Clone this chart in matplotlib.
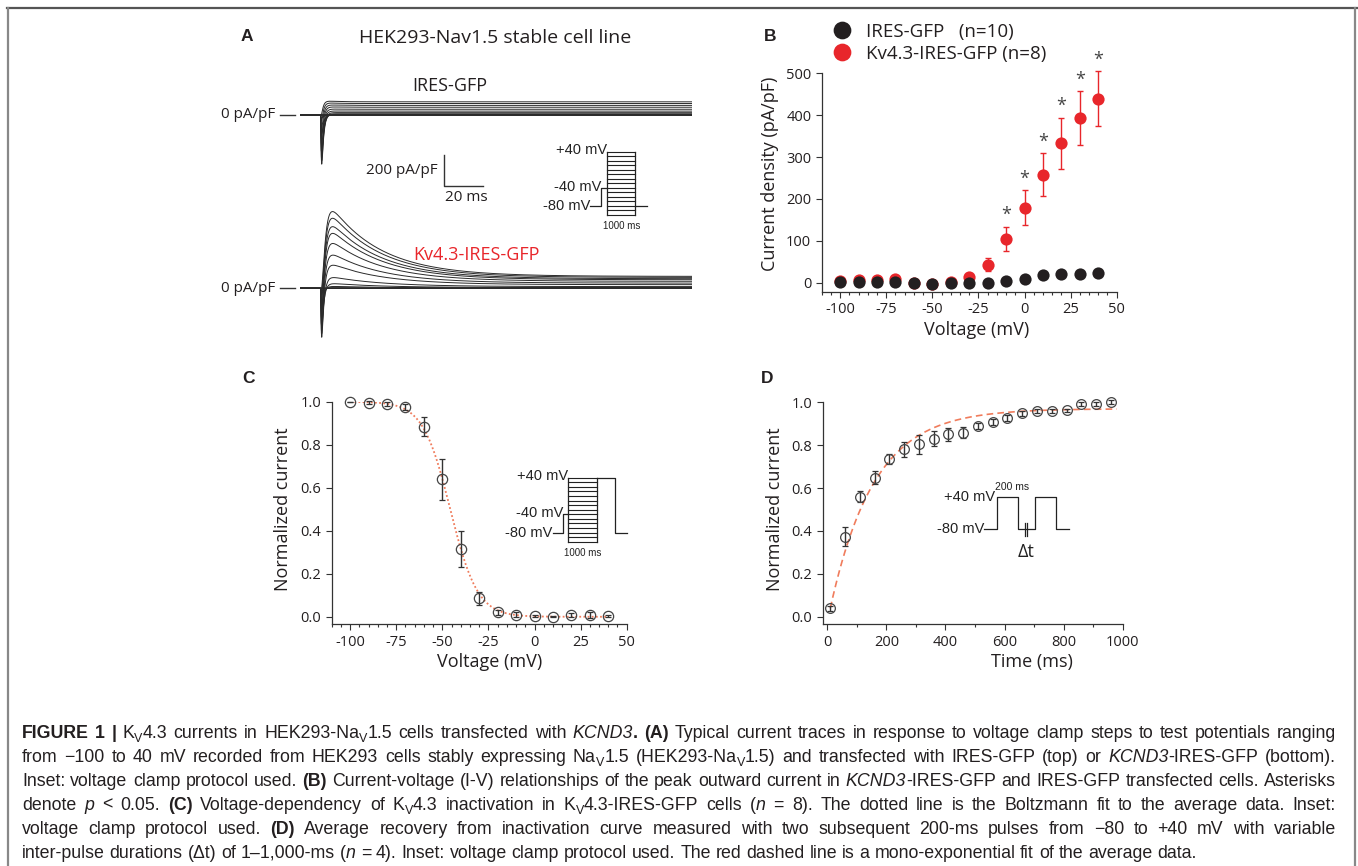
import numpy as np
import matplotlib
matplotlib.use("Agg")
import matplotlib.pyplot as plt
from matplotlib.lines import Line2D
from matplotlib.ticker import MultipleLocator

W, H = 1358, 866
INK = "#231f20"
RED = "#e8262b"
FIT = "#f07c5c"

# ---------------- data ----------------
step_voltages = [-100, -90, -80, -70, -60, -50, -40, -30, -20, -10, 0, 10, 20, 30, 40]

# panel B, I-V relationship (pA/pF)
ires_iv = [1, 1, 1, 1, -1, -3, -1, -1, 0, 3, 10, 18, 20, 21, 23]
kv_iv = [5, 6, 7, 9, -1, -3, 1, 13, 43, 105, 179, 258, 333, 393, 439]
kv_iv_err = [1, 1, 1, 2, 1, 1, 2, 4, 15, 29, 42, 51, 61, 64, 66]
kv_iv_sig = [0, 0, 0, 0, 0, 0, 0, 0, 0, 1, 1, 1, 1, 1, 1]
legend_labels = ["IRES-GFP   (n=10)", "Kv4.3-IRES-GFP (n=8)"]

# panel C, steady-state inactivation
inact_current = [1.0, 0.995, 0.99, 0.975, 0.883, 0.64, 0.315, 0.085, 0.02, 0.01, 0.005, 0.0, 0.008, 0.008, 0.005]
inact_err = [0, 0.008, 0.01, 0.013, 0.044, 0.095, 0.085, 0.031, 0.01, 0.01, 0.005, 0.003, 0.008, 0.012, 0.005]
boltz_vhalf = -45.7
boltz_slope = 7.4

# panel D, recovery from inactivation
recovery_time = [10, 60, 110, 160, 210, 260, 310, 360, 410, 460, 510, 560, 610, 660, 710, 760, 810, 860, 910, 960]
recovery_current = [0.04, 0.373, 0.56, 0.648, 0.736, 0.78, 0.804, 0.83, 0.85, 0.858, 0.89, 0.908, 0.927,
                    0.948, 0.96, 0.96, 0.963, 0.992, 0.992, 1.0]
recovery_err = [0.012, 0.045, 0.025, 0.03, 0.025, 0.035, 0.045, 0.035, 0.03, 0.025, 0.015, 0.015, 0.015,
                0.01, 0.008, 0.01, 0.008, 0.01, 0.01, 0.01]
exp_plateau, exp_amp, exp_tau = 0.97, 0.995, 149.0

# panel A, example traces (pA/pF) for each step voltage
na_peak = [0, 0, 0, 0, -20, -120, -250, -320, -300, -260, -210, -160, -110, -60, -20]
ires_plateau = [0, 0, 0, 0, 0, 1, 3, 8, 15, 25, 37, 50, 62, 74, 85]
kv_peak = [0, 0, 0, 0, 4, 12, 30, 70, 150, 215, 290, 355, 398, 452, 495]
top_offset = 1118  # vertical offset of the IRES-GFP traces

# protocol schematics (ms, mV)
protA = ([0, 400, 400, 630], [-80, -80, -40, -40])
protA_tail = ([1630, 2050], [-80, -80])
protC = ([0, 373, 373, 549], [-80, -80, -40, -40])
protC_tail = ([1549, 2193, 2193, 2605], [40, 40, -80, -80])
protD = ([0, 120, 120, 320, 320, 485, 485, 685, 685, 805], [-80, -80, 40, 40, -80, -80, 40, 40, -80, -80])

plt.rcParams["font.family"] = ["Open Sans", "DejaVu Sans"]
plt.rcParams["axes.unicode_minus"] = False

fig = plt.figure(figsize=(W / 100, H / 100), dpi=100)


def px_axes(l, t, r, b):
    return fig.add_axes([l / W, 1 - b / H, (r - l) / W, (b - t) / H])


def ftext(x, y, s, **kw):
    kw.setdefault("color", INK)
    return fig.text(x / W, 1 - y / H, s, **kw)


def style_axes(ax):
    for s in ["top", "right"]:
        ax.spines[s].set_visible(False)
    for s in ["left", "bottom"]:
        ax.spines[s].set_color("#333333")
        ax.spines[s].set_linewidth(0.9)
    ax.tick_params(which="both", direction="out", colors="#333333", labelcolor=INK,
                   labelsize=10.5, width=0.8)
    ax.tick_params(which="major", length=4)
    ax.tick_params(which="minor", length=2.5)
    ax.patch.set_alpha(0)


# ---------------- panel A ----------------
axA = px_axes(300, 95, 692, 345)
axA.set_xlim(-10.5, 190.5)
axA.set_ylim(-366, 1247)
axA.axis("off")

t = np.arange(-10.5, 190.5, 0.05)
tt = np.clip(t, 0, None)
na_shape = (1 - np.exp(-tt / 0.25)) ** 3 * np.exp(-tt / 1.0)
na_shape /= na_shape.max()
kv_shape = (1 - np.exp(-tt / 1.5)) ** 3 * (0.88 * np.exp(-tt / 26.0) + 0.12)
kv_shape /= kv_shape.max()
ires_shape = (1 - np.exp(-tt / 0.8)) ** 2 * (1 + 0.12 * np.exp(-tt / 6.0))

for na, ip, kp in zip(na_peak, ires_plateau, kv_peak):
    axA.plot(t, top_offset + na * na_shape + ip * ires_shape, color="#2a2a2a", lw=0.7)
    axA.plot(t, na * na_shape + kp * kv_shape, color="#2a2a2a", lw=0.7)

# scale bar 200 pA/pF, 20 ms
axA.plot([63.5, 63.5, 83.5], [860, 660, 660], color="#333333", lw=1.0)
for y0 in [top_offset, 0]:
    axA.plot([-20.8, -13.1], [y0, y0], color="#333333", lw=1.0, clip_on=False)

ftext(246.7, 36.7, "A", fontsize=12.5, fontweight="bold", family="Liberation Sans", ha="center", va="center")
ftext(495, 38.3, "HEK293-Nav1.5 stable cell line", fontsize=14, ha="center", va="center")
ftext(450, 86, "IRES-GFP", fontsize=13, ha="center", va="center")
ftext(476.7, 255, "Kv4.3-IRES-GFP", fontsize=13, ha="center", va="center", color=RED)
ftext(275, 115, "0 pA/pF", fontsize=11, ha="right", va="center")
ftext(275, 288.3, "0 pA/pF", fontsize=11, ha="right", va="center")
ftext(437.3, 170.7, "200 pA/pF", fontsize=11, ha="right", va="center")
ftext(466.7, 197.3, "20 ms", fontsize=11, ha="center", va="center")


def step_box(ax, x0, x1, levels):
    for v in levels:
        ax.plot([x0, x1], [v, v], color="#222222", lw=0.8, clip_on=False)
    for x in [x0, x1]:
        ax.plot([x, x], [min(levels), max(levels)], color="#222222", lw=0.9, clip_on=False)


# inset A protocol
inA = px_axes(590, 151.7, 646.8, 215)
inA.set_xlim(0, 2050)
inA.set_ylim(-100, 40)
inA.axis("off")
inA.plot(*protA, color="#222222", lw=0.9, clip_on=False)
inA.plot(*protA_tail, color="#222222", lw=0.9, clip_on=False)
step_box(inA, 630, 1630, step_voltages)
ins_kw = dict(family="Liberation Sans", fontsize=10.5, color="#222222", va="center", ha="right")
inA.text(630, 43, "+40 mV", **ins_kw)
inA.text(400, -37, "-40 mV", **ins_kw)
inA.text(10, -80, "-80 mV", **ins_kw)
inA.text(1130, -124, "1000 ms", family="Liberation Sans", fontsize=7, color="#222222",
         ha="center", va="center")

# ---------------- panel B ----------------
axB = px_axes(821.7, 73.3, 1116.7, 291.7)
style_axes(axB)
axB.set_xlim(-110, 50)
axB.set_ylim(-21.5, 500)
axB.errorbar(step_voltages, kv_iv, yerr=kv_iv_err, fmt="none", ecolor=RED, elinewidth=1.0,
             capsize=2.4, capthick=1.0, clip_on=False, zorder=2)
h_red, = axB.plot(step_voltages, kv_iv, "o", color=RED, ms=8.8, mec="none", clip_on=False, zorder=3)
h_blk, = axB.plot(step_voltages, ires_iv, "o", color=INK, ms=8.8, mec="none", clip_on=False, zorder=4)
for v, m, e, s in zip(step_voltages, kv_iv, kv_iv_err, kv_iv_sig):
    if s:
        axB.text(v, m + e + 6, "*", ha="center", va="bottom", fontsize=13, color="#444444")
axB.set_xticks([-100, -75, -50, -25, 0, 25, 50])
axB.xaxis.set_minor_locator(MultipleLocator(5))
axB.set_yticks([0, 100, 200, 300, 400, 500])
axB.set_xlabel("Voltage (mV)", fontsize=13, color=INK, va="center")
axB.xaxis.set_label_coords(0.526, -0.175)
axB.set_ylabel("Current density (pA/pF)", fontsize=13, color=INK, va="center")
axB.yaxis.set_label_coords(-0.175, 0.542)
axB.legend([h_blk, h_red], legend_labels, loc="upper left", bbox_to_anchor=(833 / W, 1 - 23 / H),
           bbox_transform=fig.transFigure, frameon=False, fontsize=13.5, markerscale=1.45,
           handlelength=1.0, handletextpad=0.75, labelspacing=0.2, borderpad=0, borderaxespad=0,
           labelcolor=INK)
ftext(770, 36.7, "B", fontsize=12.5, fontweight="bold", family="Liberation Sans", ha="center", va="center")

# ---------------- panel C ----------------
axC = px_axes(331.7, 401.7, 626.7, 624.3)
style_axes(axC)
axC.set_xlim(-110, 50)
axC.set_ylim(-0.035, 1.0)
vfit = np.linspace(step_voltages[0], step_voltages[-1], 300)
axC.plot(vfit, 1 / (1 + np.exp((vfit - boltz_vhalf) / boltz_slope)), color=FIT, lw=1.3,
         ls=(0, (1, 1.3)), zorder=1)
axC.errorbar(step_voltages, inact_current, yerr=inact_err, fmt="o", mfc="none", mec="#444444",
             ms=7.4, mew=0.9, ecolor="#333333", elinewidth=1.0, capsize=2.0, capthick=1.0,
             clip_on=False, zorder=3)
axC.set_xticks([-100, -75, -50, -25, 0, 25, 50])
axC.xaxis.set_minor_locator(MultipleLocator(5))
axC.set_yticks([0, 0.2, 0.4, 0.6, 0.8, 1.0])
axC.set_yticklabels(["0.0", "0.2", "0.4", "0.6", "0.8", "1.0"])
axC.set_xlabel("Voltage (mV)", fontsize=13, color=INK, va="center")
axC.xaxis.set_label_coords(0.537, -0.169)
axC.set_ylabel("Normalized current", fontsize=13, color=INK, va="center")
axC.yaxis.set_label_coords(-0.164, 0.518)
ftext(248.3, 378.3, "C", fontsize=12.5, fontweight="bold", family="Liberation Sans", ha="center", va="center")

inC = px_axes(552.7, 477.7, 626.7, 541.7)
inC.set_xlim(0, 2605)
inC.set_ylim(-100, 40)
inC.axis("off")
inC.plot(*protC, color="#222222", lw=0.9, clip_on=False)
inC.plot(*protC_tail, color="#222222", lw=0.9, clip_on=False)
step_box(inC, 549, 1549, step_voltages)
inC.text(549, 43, "+40 mV", **ins_kw)
inC.text(373, -37, "-40 mV", **ins_kw)
inC.text(0, -80, "-80 mV", **ins_kw)
inC.text(1049, -124, "1000 ms", family="Liberation Sans", fontsize=7, color="#222222",
         ha="center", va="center")

# ---------------- panel D ----------------
axD = px_axes(822.7, 402.3, 1122.7, 624.3)
style_axes(axD)
axD.set_xlim(-15.6, 1000)
axD.set_ylim(-0.035, 1.0)
tfit = np.linspace(recovery_time[0], 980, 300)
axD.plot(tfit, exp_plateau - exp_amp * np.exp(-tfit / exp_tau), color=FIT, lw=1.2,
         ls=(0, (4, 2.5)), zorder=1)
axD.errorbar(recovery_time, recovery_current, yerr=recovery_err, fmt="o", mfc="none", mec="#444444",
             ms=7.0, mew=0.9, ecolor="#333333", elinewidth=1.0, capsize=2.0, capthick=1.0,
             clip_on=False, zorder=3)
axD.set_xticks([0, 200, 400, 600, 800, 1000])
axD.xaxis.set_minor_locator(MultipleLocator(100))
axD.set_yticks([0, 0.2, 0.4, 0.6, 0.8, 1.0])
axD.set_yticklabels(["0.0", "0.2", "0.4", "0.6", "0.8", "1.0"])
axD.set_xlabel("Time (ms)", fontsize=13, color=INK, va="center")
axD.xaxis.set_label_coords(0.698, -0.169)
axD.set_ylabel("Normalized current", fontsize=13, color=INK, va="center")
axD.yaxis.set_label_coords(-0.159, 0.518)
ftext(766.7, 378.3, "D", fontsize=12.5, fontweight="bold", family="Liberation Sans", ha="center", va="center")

inD = px_axes(984.3, 497.3, 1068.8, 529.3)
inD.set_xlim(0, 805)
inD.set_ylim(-80, 40)
inD.axis("off")
inD.plot(*protD, color="#222222", lw=0.9, clip_on=False)
for xb in [388, 410]:
    inD.plot([xb, xb], [-105, -55], color="#222222", lw=0.9, clip_on=False)
inD.text(100, 40, "+40 mV", **ins_kw)
inD.text(0, -80, "-80 mV", **ins_kw)
inD.text(262, 58, "200 ms", family="Liberation Sans", fontsize=7.5, color="#222222",
         ha="center", va="bottom")
inD.text(399, -165, "\u0394t", fontsize=13, color="#222222", ha="center", va="center")

# ---------------- frame ----------------
fig.add_artist(Line2D([7 / W, 1], [1 - 8 / H, 1 - 8 / H], transform=fig.transFigure, color="#555555", lw=1.6))
fig.add_artist(Line2D([7.5 / W, 7.5 / W], [0, 1 - 8 / H], transform=fig.transFigure, color="#888888", lw=1.6))
fig.add_artist(Line2D([1355 / W, 1355 / W], [0, 1 - 8 / H], transform=fig.transFigure, color="#888888", lw=1.6))

# ---------------- caption ----------------
caption = [
    [("FIGURE 1 | ", "b"), ("K", "n"), ("V", "s"), ("4.3 currents in HEK293-Na", "n"), ("V", "s"),
     ("1.5 cells transfected with ", "n"), ("KCND3", "i"), (". (A) ", "b"),
     ("Typical current traces in response to voltage clamp steps to test potentials ranging", "n")],
    [("from \u2212100 to 40 mV recorded from HEK293 cells stably expressing Na", "n"), ("V", "s"),
     ("1.5 (HEK293-Na", "n"), ("V", "s"), ("1.5) and transfected with IRES-GFP (top) or ", "n"),
     ("KCND3", "i"), ("-IRES-GFP (bottom).", "n")],
    [("Inset: voltage clamp protocol used. ", "n"), ("(B)", "b"),
     (" Current-voltage (I-V) relationships of the peak outward current in ", "n"), ("KCND3", "i"),
     ("-IRES-GFP and IRES-GFP transfected cells. Asterisks", "n")],
    [("denote ", "n"), ("p", "i"), (" < 0.05. ", "n"), ("(C)", "b"), (" Voltage-dependency of K", "n"),
     ("V", "s"), ("4.3 inactivation in K", "n"), ("V", "s"), ("4.3-IRES-GFP cells (", "n"), ("n", "i"),
     (" = 8). The dotted line is the Boltzmann fit to the average data. Inset:", "n")],
    [("voltage clamp protocol used. ", "n"), ("(D)", "b"),
     (" Average recovery from inactivation curve measured with two subsequent 200-ms pulses from "
      "\u221280 to +40 mV with variable", "n")],
    [("inter-pulse durations (\u0394t) of 1\u20131,000-ms (", "n"), ("n", "i"),
     (" = 4). Inset: voltage clamp protocol used. The red dashed line is a mono-exponential fit of the average data.", "n")],
]
cap_top, cap_step = 737.5, 24.0
cap_left, cap_right = 22, 1336
renderer = fig.canvas.get_renderer()


def cap_kw(style, size):
    kw = dict(family="Liberation Sans", fontsize=size, color=INK, va="baseline", ha="left")
    if style == "b":
        kw["fontweight"] = "bold"
    elif style == "i":
        kw["fontstyle"] = "italic"
    elif style == "s":
        kw["fontsize"] = size * 0.7
    return kw


def width_of(s, kw):
    tx = fig.text(0, 0, s, **kw)
    w = tx.get_window_extent(renderer).width
    tx.remove()
    return w


def tokenize(runs):
    tokens = []
    pending = False
    for txt, st in runs:
        parts = txt.split(" ")
        for i, p in enumerate(parts):
            if i > 0:
                pending = True
            if p == "":
                continue
            tokens.append((p, st, pending))
            pending = False
    return tokens


def measure(tokens, size):
    sw = width_of("x x", cap_kw("n", size)) - width_of("xx", cap_kw("n", size))
    widths = [width_of(p, cap_kw(st, size)) for p, st, _ in tokens]
    n_gaps = sum(1 for _, _, g in tokens if g)
    return widths, n_gaps, sw


# pick the font size so the widest justified line just fills the column
base = 11.0
token_lines = [tokenize(r) for r in caption]
natural = []
for tk in token_lines[:-1]:
    w, n, sw = measure(tk, base)
    natural.append(sum(w) + n * sw)
cap_size = base * (cap_right - cap_left) / max(natural) * 0.995

for li, tokens in enumerate(token_lines):
    widths, n_gaps, space_w = measure(tokens, cap_size)
    gap = space_w
    if li < len(token_lines) - 1:
        gap = space_w + (cap_right - cap_left - sum(widths) - n_gaps * space_w) / n_gaps
    x = cap_left
    yb = cap_top + li * cap_step
    for (p, st, g), w in zip(tokens, widths):
        if g:
            x += gap
        dy = cap_size * 0.32 if st == "s" else 0
        fig.text(x / W, 1 - (yb + dy) / H, p, **cap_kw(st, cap_size))
        x += w

fig.savefig("out.png", dpi=100)
